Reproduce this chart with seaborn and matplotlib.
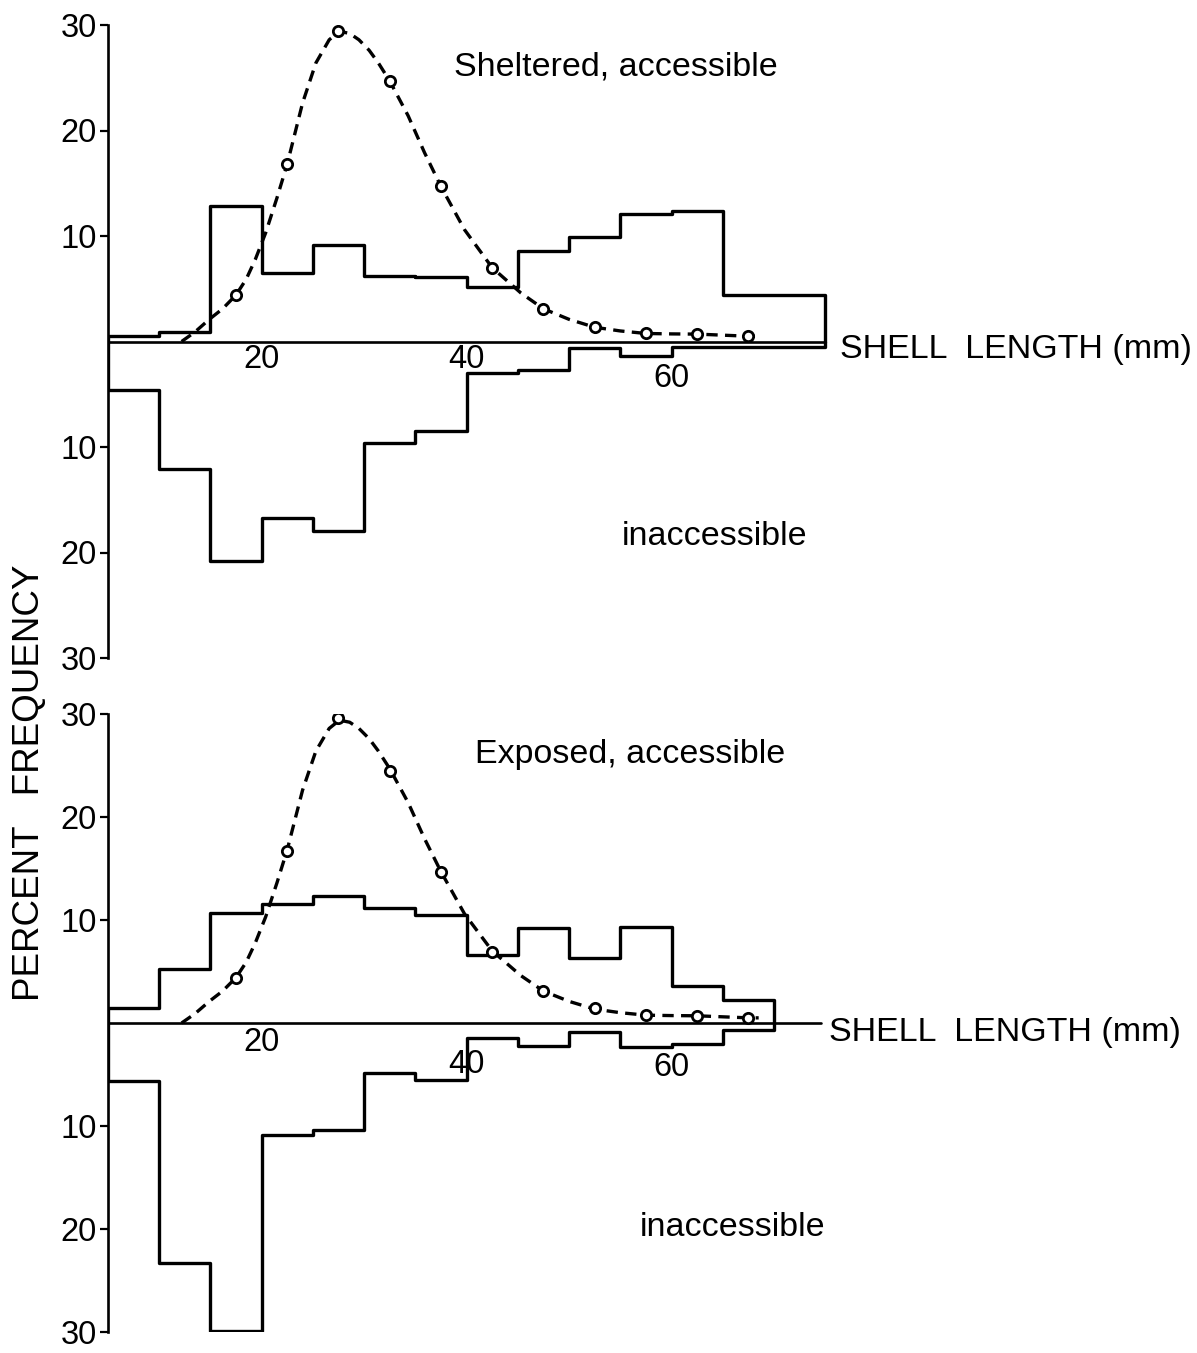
import numpy as np
import matplotlib
matplotlib.use("Agg")
import matplotlib.pyplot as plt
import seaborn as sns

# ---- data: percent frequency per 5 mm shell-length class ----
top_edges = [5, 10, 15, 20, 25, 30, 35, 40, 45, 50, 55, 60, 65, 70, 75]
top_accessible = [0.5, 0.9, 12.8, 6.5, 9.1, 6.2, 6.1, 5.2, 8.6, 9.9, 12.1, 12.4, 4.4, 4.4]
top_inaccessible = [4.6, 12.1, 20.8, 16.7, 18.0, 9.6, 8.5, 3.0, 2.7, 0.6, 1.4, 0.5, 0.5, 0.5]

bottom_edges = [5, 10, 15, 20, 25, 30, 35, 40, 45, 50, 55, 60, 65, 70]
bottom_accessible = [1.5, 5.2, 10.7, 11.6, 12.3, 11.2, 10.5, 6.6, 9.2, 6.3, 9.3, 3.6, 2.2]
bottom_inaccessible = [5.6, 23.3, 29.9, 10.9, 10.4, 4.9, 5.5, 1.5, 2.2, 0.9, 2.3, 2.0, 0.7]

# expected distribution: class mid-points and the fitted curve
class_mid = [17.5, 22.5, 27.5, 32.5, 37.5, 42.5, 47.5, 52.5, 57.5, 62.5, 67.5]
top_expected = [4.4, 16.8, 29.4, 24.7, 14.7, 7.0, 3.1, 1.35, 0.76, 0.7, 0.5]
bottom_expected = [4.4, 16.7, 29.6, 24.5, 14.7, 6.9, 3.1, 1.5, 0.8, 0.67, 0.5]

curve_x = [12.2, 13.5, 14.9, 16.2, 17.5, 18.5, 19.4, 20.4, 21.5, 22.5, 24.0, 25.3,
           26.6, 27.6, 28.6, 29.5, 30.5, 31.4, 32.5, 34.3, 35.9, 37.5, 39.8, 42.5,
           45.3, 47.5, 50.0, 52.5, 55.0, 57.5, 60.0, 62.5, 65.0, 67.5, 68.5]
curve_y = [0.0, 0.9, 2.1, 3.1, 4.4, 5.9, 7.8, 10.3, 13.6, 16.8, 22.6, 26.4,
           28.6, 29.4, 29.2, 28.6, 27.6, 26.4, 24.7, 21.4, 17.9, 14.7, 10.6, 7.0,
           4.6, 3.1, 2.1, 1.35, 1.0, 0.76, 0.72, 0.7, 0.6, 0.5, 0.5]

y_ticks = [-30, -20, -10, 10, 20, 30]
y_tick_labels = ["30", "20", "10", "10", "20", "30"]

sns.set_style("white")
plt.rcParams["font.family"] = ["Liberation Sans", "DejaVu Sans"]
plt.rcParams["text.color"] = "black"
plt.rcParams["axes.labelcolor"] = "black"
plt.rcParams["ytick.color"] = "black"
plt.rcParams["xtick.color"] = "black"

W, H = 1197, 1353
fig = plt.figure(figsize=(W / 100, H / 100), dpi=100)

px_per_mm = 10.25
left_px = 107.8
x_right = 5 + (W - left_px) / px_per_mm

ax_top = fig.add_axes([left_px / W, 1 - 658 / H, 1 - left_px / W, (658 - 25) / H])
ax_bot = fig.add_axes([left_px / W, 1 - 1332 / H, 1 - left_px / W, (1332 - 714) / H])

FS = 24.5
FS_NUM = 23.5
LW_HIST = 2.4


def step_line(ax, edges, values, sign):
    xs = [edges[0]] + list(edges) + [edges[-1]]
    vals = [sign * v for v in values]
    ys = [0.0] + vals + [vals[-1]] + [0.0]
    sns.lineplot(x=xs, y=ys, estimator=None, sort=False, drawstyle="steps-post",
                 color="black", lw=LW_HIST, ax=ax, zorder=3)


def panel(ax, edges, acc, inacc, expected, baseline_end, title, title_xy,
          inacc_xy, xlabel_xy, num_pos):
    ax.set_xlim(5, x_right)
    ax.set_ylim(-30, 30)
    for side in ("top", "right", "bottom"):
        ax.spines[side].set_visible(False)
    ax.spines["left"].set_bounds(-30, 30)
    ax.spines["left"].set_linewidth(1.9)
    ax.spines["left"].set_color("black")
    ax.set_xticks([])
    ax.set_yticks(y_ticks)
    ax.set_yticklabels(y_tick_labels)
    ax.tick_params(axis="y", direction="out", length=6, width=1.6, pad=2,
                   labelsize=FS_NUM, left=True, colors="black")
    ax.set_xlabel("")
    ax.set_ylabel("")

    # baseline (zero line)
    sns.lineplot(x=[5, baseline_end], y=[0, 0], color="black", lw=1.9, ax=ax,
                 estimator=None, zorder=2)

    step_line(ax, edges, acc, 1)
    step_line(ax, edges, inacc, -1)

    # expected distribution curve and points
    sns.lineplot(x=curve_x, y=curve_y, estimator=None, sort=False, color="black",
                 lw=2.4, ax=ax, zorder=3, linestyle=(0, (3.4, 2.2)))
    sns.scatterplot(x=class_mid, y=expected, s=55, facecolor="white",
                    edgecolor="black", linewidth=2.0, ax=ax, zorder=4)

    ax.text(*title_xy, title, fontsize=FS, ha="center", va="center")
    ax.text(*inacc_xy, "inaccessible", fontsize=FS, ha="center", va="center")
    ax.text(*xlabel_xy, "SHELL  LENGTH (mm)", fontsize=FS, ha="left", va="center")
    for val, ypos in num_pos:
        ax.text(val, ypos, str(val), fontsize=FS_NUM, ha="center", va="center")


panel(ax_top, top_edges, top_accessible, top_inaccessible, top_expected,
      75, "Sheltered, accessible", (54.6, 26.0), (64.2, -18.5), (76.4, -0.75),
      [(20, -1.7), (40, -1.7), (60, -3.5)])

panel(ax_bot, bottom_edges, bottom_accessible, bottom_inaccessible, bottom_expected,
      74.6, "Exposed, accessible", (56.0, 26.1), (66.0, -19.9), (75.4, -0.95),
      [(20, -1.9), (40, -4.0), (60, -4.3)])

fig.text(30 / W, 1 - 783 / H, "PERCENT   FREQUENCY", rotation=90, fontsize=26.5,
         ha="center", va="center")

fig.savefig("out.png", dpi=100, facecolor="white")
